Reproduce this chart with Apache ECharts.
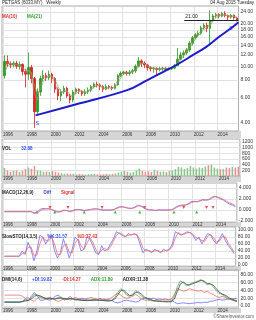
<!DOCTYPE html>
<html>
<head>
<meta charset="utf-8">
<script src="https://cdn.jsdelivr.net/npm/echarts@6/dist/echarts.min.js"></script>
<style>
  html, body { margin: 0; padding: 0; background: #fff; }
  #chart { width: 256px; height: 320px; }
</style>
</head>
<body>
<div id="chart"></div>
<script>
// quarterly candles, 1996 Q1 .. 2015 Q3
const open = [8.6, 10.8, 10.4, 10.2, 10.5, 10.0, 10.3, 9.2, 8.8, 9.8,
  8.2, 4.8, 6.6, 8.2, 8.6, 8.3, 8.8, 8.2, 6.9, 6.2,
  6.6, 7.0, 6.2, 5.8, 6.6, 6.9, 6.7, 6.4, 6.6, 6.8,
  7.2, 7.5, 7.4, 7.2, 6.9, 7.2, 7.1, 7.0, 7.4, 8.6,
  8.9, 9.1, 8.9, 9.1, 9.3, 10.0, 10.9, 10.5, 10.2, 9.8,
  9.6, 9.7, 9.5, 9.6, 9.7, 9.5, 9.6, 9.7, 10.1, 11.2,
  12.0, 12.4, 13.0, 14.5, 15.8, 16.6, 17.0, 18.6, 19.4, 18.4,
  21.0, 22.5, 23.0, 22.4, 23.4, 22.6, 22.0, 22.8, 21.8];
const close = [10.8, 10.4, 10.2, 10.5, 10.0, 10.3, 9.2, 8.8, 9.8, 8.2,
  4.8, 6.6, 8.2, 8.6, 8.3, 8.8, 8.2, 6.9, 6.2, 6.6,
  7.0, 6.2, 5.8, 6.6, 6.9, 6.7, 6.4, 6.6, 6.8, 7.2,
  7.5, 7.4, 7.2, 6.9, 7.2, 7.1, 7.0, 7.4, 8.6, 8.9,
  9.1, 8.9, 9.1, 9.3, 10.0, 10.9, 10.5, 10.2, 9.8, 9.6,
  9.7, 9.5, 9.6, 9.7, 9.5, 9.6, 9.7, 10.1, 11.2, 12.0,
  12.4, 13.0, 14.5, 15.8, 16.6, 17.0, 18.6, 19.4, 18.4, 21.0,
  22.5, 23.0, 22.4, 23.4, 22.6, 22.0, 22.8, 21.8, 21.0];
const low = [8.2, 9.9, 9.7, 9.8, 9.6, 9.5, 8.6, 7.1, 8.0, 7.6,
  3.7, 4.5, 6.2, 7.8, 7.9, 8.0, 7.6, 6.5, 5.8, 5.7,
  6.4, 6.0, 5.5, 5.6, 6.4, 6.4, 6.2, 6.2, 6.4, 6.6,
  7.0, 7.1, 6.8, 6.6, 6.8, 6.9, 6.8, 6.9, 7.3, 8.4,
  8.7, 8.6, 8.6, 8.8, 9.0, 9.8, 9.9, 9.7, 9.3, 9.2,
  9.0, 8.6, 9.2, 9.3, 9.3, 9.3, 9.4, 9.5, 10.0, 11.0,
  11.4, 12.0, 12.6, 14.0, 15.4, 16.0, 16.6, 18.0, 17.3, 14.0,
  20.5, 21.8, 21.6, 22.0, 22.0, 21.0, 21.6, 21.2, 20.6];
const high = [11.9, 11.9, 10.8, 10.9, 10.9, 10.8, 10.5, 9.6, 12.5, 10.2,
  8.4, 7.0, 8.6, 9.4, 9.0, 9.3, 9.0, 8.4, 7.1, 6.9,
  7.3, 7.2, 6.4, 6.8, 7.1, 7.0, 6.8, 6.9, 7.1, 7.4,
  7.7, 7.8, 7.6, 7.4, 7.5, 7.4, 7.3, 7.6, 8.8, 9.2,
  9.3, 9.3, 9.4, 9.6, 10.3, 11.6, 11.2, 10.8, 10.4, 10.0,
  9.9, 9.8, 9.9, 9.9, 9.8, 9.8, 9.9, 10.4, 13.4, 12.6,
  12.9, 13.4, 15.0, 16.3, 17.0, 17.6, 19.2, 20.0, 20.2, 24.6,
  23.2, 23.6, 23.5, 24.0, 24.3, 23.0, 23.2, 23.0, 22.2];
const ma10 = [9.5, 10.6, 10.4, 10.3, 10.2, 10.2, 9.6, 9.0, 9.3, 8.9,
  6.4, 5.8, 7.4, 8.4, 8.4, 8.6, 8.5, 7.5, 6.6, 6.4,
  6.8, 6.6, 6.0, 6.2, 6.7, 6.8, 6.6, 6.5, 6.7, 7.0,
  7.3, 7.4, 7.3, 7.0, 7.0, 7.1, 7.0, 7.2, 8.0, 8.7,
  9.0, 9.0, 9.0, 9.2, 9.6, 10.4, 10.7, 10.4, 10.0, 9.7,
  9.6, 9.6, 9.5, 9.6, 9.6, 9.6, 9.6, 9.9, 10.6, 11.6,
  12.2, 12.7, 13.8, 15.1, 16.2, 16.8, 17.8, 19.0, 19.0, 19.8,
  21.8, 22.8, 22.8, 22.9, 23.0, 22.4, 22.4, 22.4, 21.5];
const ma21 = [9.0, 10.0, 10.4, 10.3, 10.3, 10.2, 9.9, 9.4, 9.3, 9.1,
  7.4, 6.4, 6.8, 7.8, 8.3, 8.5, 8.5, 8.0, 7.2, 6.6,
  6.7, 6.7, 6.3, 6.2, 6.4, 6.7, 6.7, 6.6, 6.6, 6.9,
  7.1, 7.3, 7.3, 7.1, 7.0, 7.1, 7.0, 7.1, 7.6, 8.3,
  8.8, 9.0, 9.0, 9.1, 9.4, 10.0, 10.5, 10.4, 10.1, 9.8,
  9.7, 9.6, 9.6, 9.6, 9.6, 9.6, 9.6, 9.8, 10.2, 11.0,
  11.8, 12.4, 13.2, 14.4, 15.5, 16.3, 17.2, 18.2, 18.8, 19.3,
  20.8, 22.0, 22.5, 22.7, 22.8, 22.6, 22.4, 22.4, 22.0];
const volume = [280, 200, 150, 180, 200, 150, 180, 250, 300, 250,
  350, 200, 180, 150, 160, 140, 180, 150, 120, 100,
  80, 90, 70, 80, 60, 70, 60, 50, 60, 70,
  80, 60, 50, 60, 80, 60, 70, 90, 120, 150,
  180, 150, 120, 140, 200, 260, 180, 150, 160, 140,
  220, 180, 150, 160, 140, 180, 200, 240, 320, 300,
  250, 280, 350, 300, 260, 300, 280, 330, 380, 400,
  300, 260, 240, 250, 300, 280, 320, 300, 330];
const macdDiff = [-0.3, -0.3, -0.3, -0.3, -0.3, -0.3, -0.3, -0.3, -0.3, -0.3,
  -0.6, -0.4, 0.1, 0.3, 0.2, 0.2, 0.1, -0.2, -0.4, -0.3,
  0, -0.1, -0.3, -0.1, 0.1, 0.1, 0, -0.1, 0, 0.1,
  0.2, 0.2, 0.1, 0, 0, 0, 0, 0.1, 0.4, 0.6,
  0.6, 0.4, 0.3, 0.3, 0.5, 0.9, 0.7, 0.4, 0.1, 0,
  0, -0.1, 0, 0, 0, 0, 0, 0.2, 0.6, 0.8,
  0.9, 0.9, 1.1, 1.5, 1.6, 1.5, 1.7, 1.9, 1.8, 1.9,
  2.3, 2.5, 2.3, 2.0, 1.8, 1.4, 1.1, 0.9, 0.6];
const macdSignal = [-0.3, -0.3, -0.3, -0.3, -0.3, -0.3, -0.3, -0.3, -0.3, -0.3,
  -0.5, -0.5, -0.2, 0.1, 0.2, 0.2, 0.1, -0.1, -0.3, -0.3,
  -0.1, -0.1, -0.2, -0.2, 0, 0.1, 0, -0.1, 0, 0.05,
  0.15, 0.2, 0.15, 0.05, 0, 0, 0, 0.05, 0.3, 0.5,
  0.55, 0.5, 0.35, 0.3, 0.4, 0.7, 0.8, 0.5, 0.2, 0.05,
  0, -0.05, 0, 0, 0, 0, 0, 0.1, 0.4, 0.7,
  0.8, 0.9, 1.0, 1.3, 1.5, 1.5, 1.6, 1.8, 1.8, 1.85,
  2.1, 2.4, 2.4, 2.2, 1.9, 1.6, 1.3, 1.1, 0.8];
const stochK = [25, 25, 25, 25, 25, 25, 40, 30, 65, 45,
  12, 40, 85, 80, 60, 75, 85, 40, 20, 35,
  75, 50, 20, 45, 80, 70, 40, 45, 80, 75,
  55, 35, 30, 55, 40, 45, 60, 75, 95, 90,
  85, 80, 90, 85, 90, 85, 60, 35, 45, 40,
  35, 45, 40, 35, 45, 40, 45, 60, 95, 90,
  85, 90, 95, 92, 85, 70, 80, 60, 75, 90,
  85, 70, 60, 75, 90, 70, 55, 45, 32];
const stochD = [25, 25, 25, 25, 25, 25, 32, 35, 50, 52,
  28, 28, 60, 80, 70, 68, 80, 60, 30, 30,
  55, 60, 35, 35, 62, 75, 55, 45, 62, 78,
  65, 45, 32, 42, 48, 42, 52, 68, 85, 92,
  88, 82, 85, 87, 88, 87, 72, 48, 40, 42,
  38, 40, 42, 38, 40, 42, 43, 52, 78, 92,
  88, 88, 92, 93, 88, 78, 75, 70, 68, 82,
  87, 78, 65, 68, 82, 80, 62, 50, 37];
const diRed = [28, 28, 28, 28, 28, 28, 25, 20, 22, 15,
  12, 20, 25, 22, 20, 22, 20, 15, 12, 15,
  20, 18, 15, 20, 22, 18, 15, 18, 20, 22,
  20, 18, 15, 18, 17, 18, 22, 28, 33, 28,
  22, 20, 22, 25, 30, 25, 18, 15, 15, 14,
  13, 16, 15, 16, 15, 16, 18, 30, 45, 42,
  38, 40, 45, 42, 40, 38, 40, 35, 38, 33,
  30, 25, 22, 25, 22, 18, 18, 16, 14];
const diBlue = [10, 10, 10, 10, 10, 10, 12, 18, 15, 25,
  35, 25, 15, 15, 18, 15, 18, 25, 28, 22,
  15, 18, 25, 18, 15, 18, 20, 18, 15, 14,
  14, 16, 20, 16, 17, 16, 14, 10, 8, 10,
  14, 15, 13, 12, 10, 12, 18, 20, 20, 19,
  20, 17, 18, 17, 18, 16, 15, 10, 6, 7,
  8, 7, 6, 7, 8, 9, 8, 10, 9, 12,
  13, 15, 17, 15, 16, 18, 18, 19, 20];
const adx = [10, 10, 10, 10, 10, 10, 12, 15, 14, 22,
  30, 28, 22, 20, 18, 20, 19, 18, 22, 20,
  18, 17, 20, 18, 17, 15, 14, 14, 15, 16,
  16, 15, 15, 14, 13, 13, 15, 22, 35, 45,
  38, 28, 25, 30, 40, 33, 25, 20, 18, 15,
  13, 12, 12, 11, 11, 11, 12, 25, 50, 65,
  60, 52, 55, 60, 62, 65, 68, 62, 55, 58,
  50, 40, 32, 30, 25, 20, 16, 13, 12];
const adxr = [10, 10, 10, 10, 10, 10, 11, 13, 14, 18,
  25, 28, 26, 22, 19, 19, 19, 18, 20, 21,
  19, 18, 19, 18, 17, 16, 15, 14, 14, 15,
  16, 15, 15, 14, 14, 13, 14, 18, 28, 40,
  41, 33, 27, 28, 35, 36, 30, 23, 19, 17,
  14, 13, 12, 12, 11, 11, 11, 18, 38, 57,
  62, 56, 54, 57, 60, 63, 66, 64, 58, 57,
  54, 45, 36, 31, 28, 23, 18, 15, 12];

// blue support curve, [year, price]
const trend = [[1998.73, 4.53], [2002.45, 5.5], [2006.41, 6.8], [2008.07, 7.97],
  [2009.72, 9.4], [2010.55, 10.2], [2011.95, 12.0], [2013.02, 13.6],
  [2014.1, 16.0], [2015.26, 18.8], [2015.75, 20.3]];
const supportLevel = 21.0;
const supportStart = 2011.2;
const lastClose = 21.0;
const lastVolume = 32.88;
const buySignals = [1998.87, 2000.38, 2002.86, 2005.48, 2007.55, 2010.44, 2012.36];
const sellSignals = [1999.97, 2001.48, 2004.37, 2007.96, 2011.27, 2013.19, 2013.74];

// tick labels
const yearTicks = [1996, 1998, 2000, 2002, 2004, 2006, 2008, 2010, 2012, 2014];
const priceTicks = [4, 6, 8, 10, 12, 14, 16, 18, 20, 24];
const volTicks = [200, 400, 600, 800, 1000, 1200];
const macdTicks = [-2, 0, 2, 4];
const stochTicks = [0, 20, 40, 60, 80, 100];
const dmiTicks = [0, 20, 40, 60, 80];

const xMin = 1995.92;
const xMax = 2015.75;
const font = 'Liberation Sans';
const dates = open.map((_, i) => 1996.125 + i * 0.25);
const pair = (arr) => arr.map((v, i) => [dates[i], v]);

const candles = dates.map((d, i) => [d, open[i], close[i], low[i], high[i]]);
const volBars = dates.map((d, i) => ({
  value: [d, volume[i]],
  itemStyle: { color: close[i] >= open[i] ? '#8cc48c' : '#e39393' }
}));

const grids = [
  { top: 6, height: 125 },
  { top: 139, height: 37 },
  { top: 183, height: 39 },
  { top: 227, height: 39 },
  { top: 270, height: 38 }
];

function xAxisFor(gridIndex) {
  return {
    type: 'value', gridIndex, min: xMin, max: xMax,
    axisLine: { show: false },
    axisTick: { show: false, customValues: yearTicks },
    axisLabel: {
      customValues: yearTicks, fontSize: 4.5, color: '#333', fontFamily: font,
      margin: gridIndex === 0 ? 1.5 : 0.5, align: 'left', verticalAlign: 'top',
      formatter: (v) => String(v)
    },
    splitLine: { show: true, lineStyle: { color: '#e2e2e2', width: 1 } }
  };
}

function yAxisFor(gridIndex, ticks, min, max, fmt, type) {
  return {
    type: type || 'value', gridIndex, min, max, position: 'right',
    axisLine: { show: false },
    axisTick: { show: false, customValues: ticks },
    axisLabel: {
      customValues: ticks, fontSize: 5, color: '#333', fontFamily: font,
      margin: 2, formatter: fmt
    },
    splitLine: { show: true, lineStyle: { color: '#e2e2e2', width: 1 } }
  };
}

const thin = (color, w) => ({
  type: 'line', showSymbol: false, animation: false,
  lineStyle: { color, width: w || 0.8 }, itemStyle: { color }
});

const chart = echarts.init(document.getElementById('chart'));
chart.setOption({
  animation: false,
  backgroundColor: '#fff',
  textStyle: { fontFamily: font },
  title: [
    { left: 2, top: 0.5, padding: 0, text: 'PETGAS (6033.MY)   Weekly',
      textStyle: { fontSize: 4.5, fontWeight: 'normal', color: '#222' } },
    { right: 2, top: 0.5, padding: 0, text: '04 Aug 2015 Tuesday',
      textStyle: { fontSize: 4.5, fontWeight: 'normal', color: '#222' } },
    { left: 2, top: 7.5, padding: 0, text: '{r|MA(10)}  {g|MA(21)}',
      textStyle: { rich: { r: { color: '#e03030', fontSize: 4.5 }, g: { color: '#30a030', fontSize: 4.5 } } } },
    { left: 2, top: 140, padding: 0, text: '{k|VOL}  {b|' + lastVolume.toFixed(2) + '}',
      textStyle: { rich: { k: { color: '#222', fontSize: 4.5 }, b: { color: '#3050e0', fontSize: 4.5 } } } },
    { left: 2, top: 184, padding: 0, text: '{k|MACD(12,26,9)}  {b|Diff}  {r|Signal}',
      textStyle: { rich: { k: { color: '#222', fontSize: 4.5 }, b: { color: '#3050e0', fontSize: 4.5 }, r: { color: '#e03030', fontSize: 4.5 } } } },
    { left: 2, top: 227.5, padding: 0, text: '{k|SlowSTO(14,3,5)}  {b|%K:31.57}  {r|%D:37.43}',
      textStyle: { rich: { k: { color: '#222', fontSize: 4.5 }, b: { color: '#3050e0', fontSize: 4.5 }, r: { color: '#e03030', fontSize: 4.5 } } } },
    { left: 2, top: 271, padding: 0, text: '{k|DMI(14,6)}  {b|+DI:19.82}  {r|-DI:14.27}  {g|ADX:11.89}  {k|ADXR:11.38}',
      textStyle: { rich: { k: { color: '#222', fontSize: 4.5 }, b: { color: '#3050e0', fontSize: 4.5 }, r: { color: '#e03030', fontSize: 4.5 }, g: { color: '#30a030', fontSize: 4.5 } } } },
    { right: 2, top: 314.5, padding: 0, text: '\u00a9ShareInvestor.com',
      textStyle: { fontSize: 4.5, fontWeight: 'normal', color: '#555' } }
  ],
  graphic: [
    { type: 'rect', silent: true, z: -10, shape: { x: 1, y: 131, width: 240, height: 7 }, style: { fill: '#d6d6d6' } },
    { type: 'rect', silent: true, z: -10, shape: { x: 1, y: 176, width: 240, height: 6 }, style: { fill: '#d6d6d6' } },
    { type: 'rect', silent: true, z: -10, shape: { x: 1, y: 222, width: 240, height: 5 }, style: { fill: '#d6d6d6' } },
    { type: 'rect', silent: true, z: -10, shape: { x: 1, y: 266, width: 240, height: 5 }, style: { fill: '#d6d6d6' } },
    { type: 'rect', silent: true, z: -10, shape: { x: 1, y: 308, width: 240, height: 5 }, style: { fill: '#d6d6d6' } }
  ],
  grid: grids.map((g) => ({
    left: 1, width: 240, top: g.top, height: g.height,
    show: true, borderColor: '#aaa', borderWidth: 1, backgroundColor: 'transparent'
  })),
  xAxis: [0, 1, 2, 3, 4].map(xAxisFor),
  yAxis: [
    yAxisFor(0, priceTicks, 3.52, 26.4, (v) => v.toFixed(2), 'log'),
    yAxisFor(1, volTicks, 0, 1306, (v) => String(v)),
    yAxisFor(2, macdTicks, -2.18, 4.91, (v) => v.toFixed(3)),
    yAxisFor(3, stochTicks, -2.9, 108.6, (v) => v.toFixed(2)),
    yAxisFor(4, dmiTicks, -5.2, 92.9, (v) => v.toFixed(2))
  ],
  series: [
    {
      type: 'candlestick', xAxisIndex: 0, yAxisIndex: 0, barWidth: 2,
      data: candles,
      itemStyle: { color: '#1f9e1f', color0: '#d62020', borderColor: '#1f9e1f', borderColor0: '#d62020', borderWidth: 0.8 },
      markLine: {
        symbol: 'none', silent: true, animation: false,
        data: [
          [
            { coord: [supportStart, supportLevel], lineStyle: { color: '#222', width: 1, type: 'solid' },
              label: { show: true, position: 'insideStartTop', formatter: supportLevel.toFixed(2), fontSize: 5, color: '#222', distance: 1 } },
            { coord: [xMax, supportLevel] }
          ],
          {
            yAxis: lastClose, lineStyle: { width: 0, opacity: 0 },
            label: { show: true, position: 'end', formatter: lastClose.toFixed(2), fontSize: 5, color: '#111',
              backgroundColor: '#cfe6cf', borderColor: '#333', borderWidth: 0.6, padding: [0, 1], distance: 1 }
          }
        ]
      }
    },
    Object.assign(thin('#f06a6a', 0.7), { name: 'MA(10)', xAxisIndex: 0, yAxisIndex: 0, data: pair(ma10) }),
    Object.assign(thin('#5cbf5c', 0.7), { name: 'MA(21)', xAxisIndex: 0, yAxisIndex: 0, data: pair(ma21) }),
    Object.assign(thin('#1c1ccc', 2), {
      xAxisIndex: 0, yAxisIndex: 0, smooth: 0.4, data: trend,
      markPoint: {
        symbol: 'circle', symbolSize: 0, silent: true,
        label: { show: true, formatter: 'S', fontSize: 5, color: '#3030ff' },
        data: [
          { coord: trend[0], label: { position: 'bottom', offset: [2, 1] } },
          { coord: trend[trend.length - 1], label: { position: 'left', offset: [-1, 6] } }
        ]
      }
    }),
    {
      type: 'bar', xAxisIndex: 1, yAxisIndex: 1, barWidth: 1.6, data: volBars,
      markLine: {
        symbol: 'none', silent: true, animation: false,
        data: [{ yAxis: lastVolume, lineStyle: { width: 0, opacity: 0 },
          label: { show: true, position: 'end', formatter: lastVolume.toFixed(2), fontSize: 5, color: '#111',
            backgroundColor: '#ffff66', borderColor: '#999', borderWidth: 0.6, padding: [0, 1], distance: 1 } }]
      }
    },
    Object.assign(thin('#6a6aff', 0.8), { xAxisIndex: 2, yAxisIndex: 2, data: pair(macdDiff) }),
    Object.assign(thin('#f06a6a', 0.8), { xAxisIndex: 2, yAxisIndex: 2, data: pair(macdSignal) }),
    {
      type: 'scatter', xAxisIndex: 2, yAxisIndex: 2, symbol: 'triangle', symbolSize: 3,
      itemStyle: { color: '#1a9a1a' }, data: buySignals.map((d) => [d, -0.35])
    },
    {
      type: 'scatter', xAxisIndex: 2, yAxisIndex: 2, symbol: 'triangle', symbolRotate: 180, symbolSize: 3,
      itemStyle: { color: '#d62020' }, data: sellSignals.map((d) => [d, 0.45])
    },
    Object.assign(thin('#6a6aff', 0.8), { xAxisIndex: 3, yAxisIndex: 3, data: pair(stochK) }),
    Object.assign(thin('#f06a6a', 0.8), { xAxisIndex: 3, yAxisIndex: 3, data: pair(stochD) }),
    Object.assign(thin('#6a6aff', 0.8), { xAxisIndex: 4, yAxisIndex: 4, data: pair(diBlue) }),
    Object.assign(thin('#f06a6a', 0.8), { xAxisIndex: 4, yAxisIndex: 4, data: pair(diRed) }),
    Object.assign(thin('#4cae4c', 0.8), { xAxisIndex: 4, yAxisIndex: 4, data: pair(adx) }),
    Object.assign(thin('#444444', 0.8), { xAxisIndex: 4, yAxisIndex: 4, data: pair(adxr) })
  ]
});
</script>
</body>
</html>
